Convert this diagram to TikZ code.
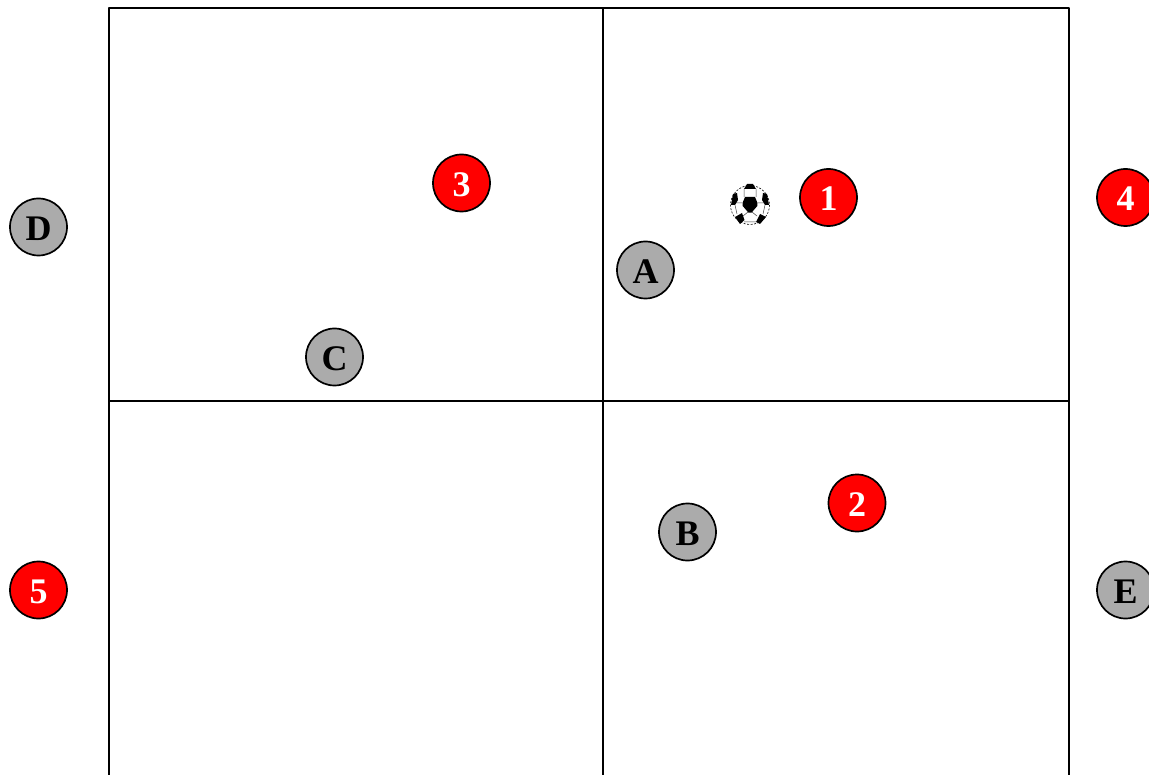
\documentclass[tikz,border=0pt]{standalone}
\usepackage{fontspec}
\setmainfont{Liberation Serif}
\begin{document}
\begin{tikzpicture}[x=1pt, y=-1pt, line join=round, font=\fontsize{36}{36}\selectfont\bfseries]
		\tikzset{
		grey/.style={circle,draw=black,line width=1.7pt,fill=black!33,minimum size=57pt,inner sep=0pt,text height=27pt,text depth=0pt},
		red/.style={grey,fill=red,text=white},
		line/.style={black,line width=2pt},
		ball/.pic={\fill[white](0,0) circle (20);
		\draw[black,line width=.6pt,dash pattern=on 2pt off 1.5pt] (0,0) circle (19.5);
		\draw[black!75,line width=.5pt] (-6,-8) -- (-6,-16) (6,-8) -- (6,-16) (-8,-2) -- (-15,-2) (8,-2) -- (15,-2) (-2,7) -- (-7,11) (2,7) -- (7,11) (-13,9) -- (-15,0) (13,9) -- (15,0) (-6,17) -- (6,17);
		\fill[black] (-5,-8) -- (5,-8) -- (7.5,-2) -- (7.3,1) -- (1.5,7.7) -- (-1.5,7.7) -- (-7.3,1) -- (-7.5,-2) -- cycle;
		\fill[black] (-6,-16) -- (-3,-21) -- (3,-21) -- (6,-16) -- cycle;
		\fill[black] (-19,0) -- (-17,-11) -- (-13,-12) -- (-12,-5) -- (-15,0) -- cycle;
		\fill[black] (19,0) -- (17,-11) -- (13,-12) -- (12,-5) -- (15,0) -- cycle;
		\fill[black] (-15,12) -- (-8,8) -- (-5.5,15) -- (-10,19) -- cycle;
		\fill[black] (6,17) -- (10,9) -- (16,12) -- (10,19) -- cycle;
		}}
		\useasboundingbox (0,0) rectangle (1149,775);
		\clip (0,0) rectangle (1149,775);
		% field
		\coordinate (TL) at (109,8);
		\coordinate (TM) at (603,8);
		\coordinate (TR) at (1069,8);
		\coordinate (BL) at (109,785);
		\coordinate (BM) at (603,785);
		\coordinate (BR) at (1069,785);
		\coordinate (ML) at (109,401);
		\coordinate (MR) at (1069,401);
		\draw[line] (BL) -- (TL) -- (TR) -- (BR);
		\draw[line] (TM) -- (BM);
		\draw[line] (ML) -- (MR);
		% players
		\node[grey] (D) at (38.5,227) {D};
		\node[grey] (A) at (645.5,270) {A};
		\node[grey] (C) at (334.5,357) {C};
		\node[grey] (B) at (687.5,532) {B};
		\node[grey] (E) at (1125.5,590) {E};
		\node[red] (P1) at (828.5,197.5) {1};
		\node[red] (P2) at (857,503) {2};
		\node[red] (P3) at (461.5,183) {3};
		\node[red] (P4) at (1125.5,197.5) {4};
		\node[red] (P5) at (38.5,590) {5};
		\pic at (750,205) {ball};
	\end{tikzpicture}
\end{document}
